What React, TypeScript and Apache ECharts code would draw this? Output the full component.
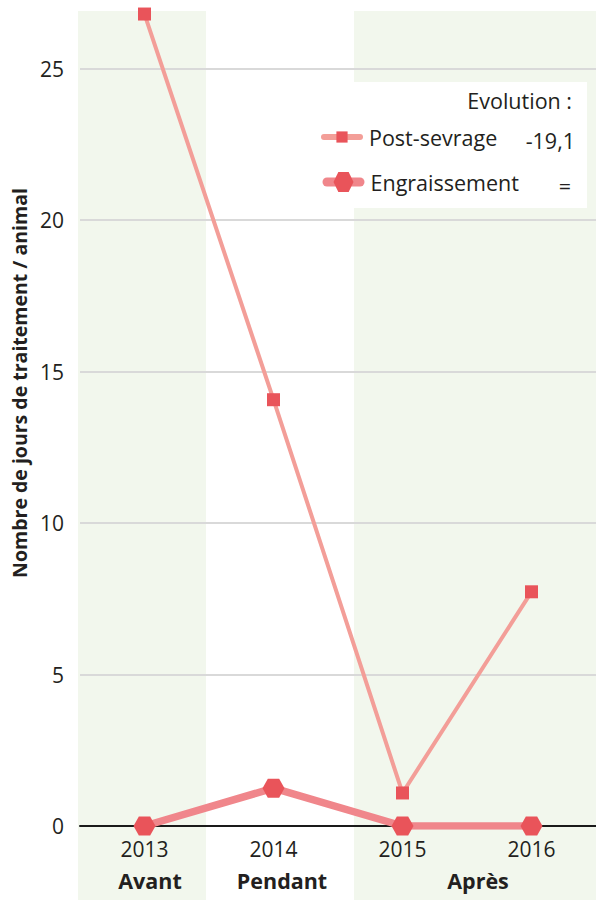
import React, { useEffect, useRef } from "react";
import * as echarts from "echarts";

const years = ["2013", "2014", "2015", "2016"];
const postSevrage = [26.8, 14.07, 1.09, 7.73];
const engraissement = [0, 1.25, 0, 0];
const gridTicks = [5, 10, 15, 20, 25];
const seriesNames = ["Post-sevrage", "Engraissement"];
const evolutions = ["-19,1", "="];
const periods = ["Avant", "Pendant", "Après"];

const FONT = "'Open Sans', 'Noto Sans', sans-serif";
const TXT = "#231f20";
const HEX = "path://M0,5 L2.9,0 L9.1,0 L12,5 L9.1,10 L2.9,10 Z";

export default function App() {
  const ref = useRef<HTMLDivElement>(null);
  useEffect(() => {
    if (!ref.current) return;
    document.body.style.margin = "0";
    document.body.style.overflow = "hidden";
    const chart = echarts.init(ref.current, null, { renderer: "svg" });
    chart.setOption({
      animation: false,
      backgroundColor: "#ffffff",
      textStyle: { fontFamily: FONT },
      grid: { left: 80, right: 0, top: 11, bottom: 74 },
      xAxis: {
        type: "category",
        data: years,
        boundaryGap: true,
        axisLine: { show: true, onZero: true, lineStyle: { color: "#1a1a1a", width: 2 } },
        axisTick: { show: false },
        axisLabel: { fontSize: 21, color: TXT, margin: 12, fontFamily: FONT },
        splitLine: { show: false },
      },
      yAxis: {
        type: "value",
        min: 0,
        max: 26.9,
        interval: 5,
        axisLine: { show: false },
        axisTick: { show: false },
        splitLine: { show: false },
        axisLabel: { fontSize: 21, color: TXT, margin: 16, showMaxLabel: false, fontFamily: FONT },
      },
      legend: [
        {
          data: [seriesNames[0]],
          left: 321,
          top: 126,
          orient: "vertical",
          padding: 0,
          itemWidth: 36,
          itemHeight: 14,
          selectedMode: false,
          lineStyle: { width: 6, cap: "round" },
          textStyle: { fontSize: 21.5, color: TXT, fontFamily: FONT, padding: [0, 0, 0, 4] },
        },
        {
          data: [seriesNames[1]],
          left: 322.5,
          top: 171,
          orient: "vertical",
          padding: 0,
          itemWidth: 33,
          itemHeight: 25,
          selectedMode: false,
          lineStyle: { width: 9, cap: "round" },
          textStyle: { fontSize: 21.5, color: TXT, fontFamily: FONT, padding: [0, 0, 0, 5.5] },
        },
      ],
      graphic: [
        { type: "rect", z: -20, silent: true, shape: { x: 78, y: 11, width: 128, height: 889 }, style: { fill: "#f2f7ed" } },
        { type: "rect", z: -20, silent: true, shape: { x: 354, y: 11, width: 242, height: 889 }, style: { fill: "#f2f7ed" } },
        { type: "rect", z: -10, silent: true, shape: { x: 308, y: 82, width: 279, height: 126 }, style: { fill: "#ffffff" } },
        {
          type: "text", x: 572, y: 100, silent: true,
          style: { text: "Evolution :", fill: TXT, font: `21.5px ${FONT}`, align: "right", verticalAlign: "middle" },
        },
        {
          type: "text", x: 575, y: 140, silent: true,
          style: { text: evolutions[0], fill: TXT, font: `21.5px ${FONT}`, align: "right", verticalAlign: "middle" },
        },
        {
          type: "text", x: 571, y: 185, silent: true,
          style: { text: evolutions[1], fill: TXT, font: `21.5px ${FONT}`, align: "right", verticalAlign: "middle" },
        },
        {
          type: "text", x: 19, y: 383, rotation: Math.PI / 2, silent: true,
          style: { text: "Nombre de jours de traitement / animal", fill: TXT, font: `bold 19.5px ${FONT}`, align: "center", verticalAlign: "middle" },
        },
        {
          type: "text", x: 150, y: 880, silent: true,
          style: { text: periods[0], fill: TXT, font: `bold 21.5px ${FONT}`, align: "center", verticalAlign: "middle" },
        },
        {
          type: "text", x: 282, y: 880, silent: true,
          style: { text: periods[1], fill: TXT, font: `bold 21.5px ${FONT}`, align: "center", verticalAlign: "middle" },
        },
        {
          type: "text", x: 478, y: 880, silent: true,
          style: { text: periods[2], fill: TXT, font: `bold 21.5px ${FONT}`, align: "center", verticalAlign: "middle" },
        },
      ],
      series: [
        {
          name: seriesNames[1],
          type: "line",
          data: engraissement,
          symbol: HEX,
          symbolSize: [22, 19],
          z: 3,
          lineStyle: { color: "#f0868b", width: 7.5, cap: "round" },
          itemStyle: { color: "#e9545a" },
          markLine: {
            silent: true,
            symbol: "none",
            label: { show: false },
            z: 1,
            lineStyle: { color: "#d9d9d9", width: 2, type: "solid" },
            data: gridTicks.map((v) => ({ yAxis: v })),
          },
        },
        {
          name: seriesNames[0],
          type: "line",
          data: postSevrage,
          symbol: "rect",
          symbolSize: 13,
          z: 4,
          lineStyle: { color: "#f39e98", width: 4, cap: "round" },
          itemStyle: { color: "#e9545a" },
        },
      ],
    });
    return () => chart.dispose();
  }, []);
  return <div ref={ref} style={{ position: "fixed", left: 0, top: 0, width: 596, height: 900 }} />;
}
